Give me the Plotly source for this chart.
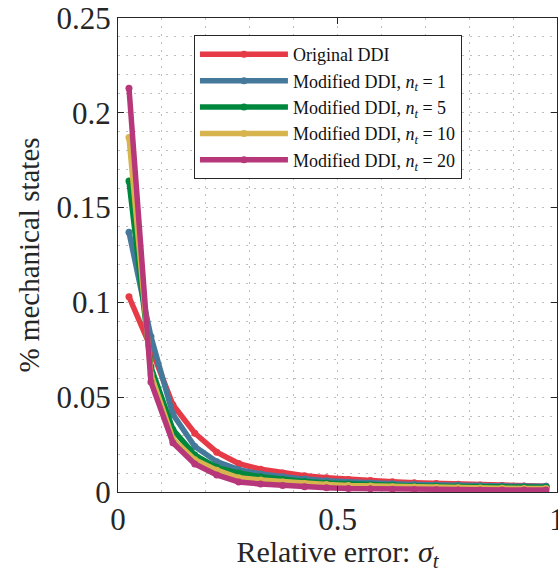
import plotly.graph_objects as go

sigma = [0.025, 0.075, 0.125, 0.175, 0.225, 0.275, 0.325, 0.375, 0.425, 0.475,
         0.525, 0.575, 0.625, 0.675, 0.725, 0.775, 0.825, 0.875, 0.925, 0.975]

original = [0.103, 0.076, 0.046, 0.031, 0.021, 0.0150, 0.0120, 0.0100, 0.0086, 0.0075,
            0.0066, 0.0060, 0.0054, 0.0049, 0.0045, 0.0041, 0.0037, 0.0034, 0.0032, 0.0030]
mod_n1 = [0.137, 0.082, 0.041, 0.024, 0.016, 0.0118, 0.0095, 0.0080, 0.0068, 0.0059,
          0.0052, 0.0047, 0.0043, 0.0040, 0.0037, 0.0035, 0.0033, 0.0031, 0.0030, 0.0030]
mod_n5 = [0.164, 0.066, 0.033, 0.0195, 0.013, 0.0100, 0.0080, 0.0066, 0.0056, 0.0048,
          0.0042, 0.0038, 0.0035, 0.0032, 0.0030, 0.0028, 0.0027, 0.0026, 0.0025, 0.0025]
mod_n10 = [0.187, 0.062, 0.028, 0.017, 0.0115, 0.0075, 0.0063, 0.0053, 0.0045, 0.0039,
           0.0034, 0.0031, 0.0028, 0.0026, 0.0024, 0.0022, 0.0021, 0.0020, 0.0019, 0.0018]
mod_n20 = [0.213, 0.058, 0.026, 0.0148, 0.009, 0.0053, 0.0042, 0.0034, 0.0028, 0.0023,
           0.0019, 0.0017, 0.0015, 0.0013, 0.0012, 0.0011, 0.0011, 0.0010, 0.0010, 0.0010]

names = ["Original DDI",
         "Modified DDI, <i>n<sub>t</sub></i> = 1",
         "Modified DDI, <i>n<sub>t</sub></i> = 5",
         "Modified DDI, <i>n<sub>t</sub></i> = 10",
         "Modified DDI, <i>n<sub>t</sub></i> = 20"]
series = [original, mod_n1, mod_n5, mod_n10, mod_n20]
colors = ["#e63b47", "#45799c", "#00873e", "#d8b44e", "#b7387a"]

x_ticks = [0, 0.5, 1]
x_labels = ["0", "0.5", "1"]
y_ticks = [0, 0.05, 0.1, 0.15, 0.2, 0.25]
y_labels = ["0", "0.05", "0.1", "0.15", "0.2", "0.25"]

FONT = "Liberation Serif"
INK = "#262626"
GRID = "#bcbcbc"
DASH = "2px,6px"

fig = go.Figure()
for name, ys, c in zip(names, series, colors):
    fig.add_trace(go.Scatter(
        x=sigma, y=ys, name=name, mode="lines+markers",
        line=dict(color=c, width=5.5),
        marker=dict(color=c, size=7),
    ))

axis_common = dict(
    showline=True, linecolor=INK, linewidth=1, mirror="allticks",
    ticks="inside", ticklen=6, tickcolor=INK,
    showgrid=True, gridcolor=GRID, griddash=DASH, gridwidth=1,
    zeroline=False, automargin=False, ticklabeloverflow="allow",
    tickfont=dict(family=FONT, size=31, color=INK),
)

fig.update_xaxes(
    range=[0, 1], tickvals=x_ticks, ticktext=x_labels,
    minor=dict(dtick=0.1, showgrid=True, gridcolor=GRID, griddash=DASH, ticks=""),
    title=dict(text="Relative error: <i>σ<sub>t</sub></i>", font=dict(family=FONT, size=30, color=INK), standoff=15),
    **axis_common,
)
fig.update_yaxes(
    range=[0, 0.25], tickvals=y_ticks, ticktext=y_labels,
    minor=dict(dtick=0.01, showgrid=True, gridcolor=GRID, griddash=DASH, ticks=""),
    title=dict(text="% mechanical states", font=dict(family=FONT, size=29, color=INK), standoff=8),
    **axis_common,
)

fig.update_layout(
    width=558, height=573,
    margin=dict(l=118, r=1, t=18, b=81),
    paper_bgcolor="white", plot_bgcolor="white",
    showlegend=True,
    legend=dict(
        x=0.173, y=0.964, xanchor="left", yanchor="top",
        bgcolor="white", bordercolor=INK, borderwidth=1,
        font=dict(family=FONT, size=18, color="#111111"),
        tracegroupgap=0, itemwidth=88,
    ),
)

fig.write_html("out.html", config={"displayModeBar": False},
               post_script="document.body.style.margin='0';document.body.style.padding='0';")
